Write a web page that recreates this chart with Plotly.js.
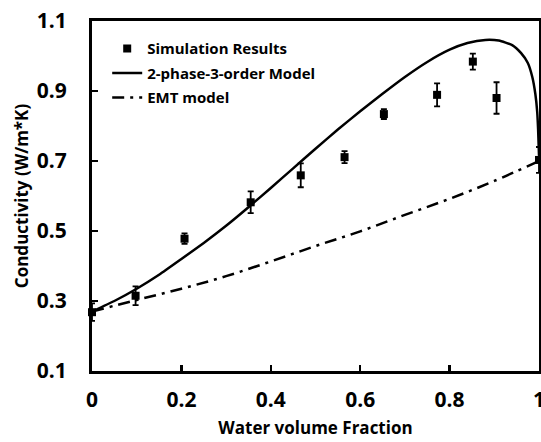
<!DOCTYPE html>
<html>
<head>
<meta charset="utf-8">
<script src="https://cdn.plot.ly/plotly-3.0.1.min.js"></script>
<style>html,body{margin:0;padding:0;background:#fff;}#chart{width:541px;height:442px;}</style>
</head>
<body>
<div id="chart"></div>
<script>
// Simulation results (points with error bars)
const simX = [0, 0.0975, 0.207, 0.355, 0.467, 0.565, 0.653, 0.772, 0.852, 0.905, 1.0];
const simY = [0.268, 0.315, 0.478, 0.582, 0.659, 0.711, 0.834, 0.889, 0.984, 0.880, 0.703];
const simErr = [0.025, 0.027, 0.015, 0.031, 0.034, 0.017, 0.014, 0.033, 0.023, 0.045, 0.037];

// 2-phase-3-order model curve
const modelX = [0, 0.05, 0.1, 0.15, 0.2, 0.25, 0.3, 0.35, 0.4, 0.45, 0.5, 0.55, 0.6, 0.65, 0.7, 0.75, 0.8, 0.84, 0.88, 0.91, 0.94, 0.96, 0.975, 0.985, 0.992, 0.996, 0.998, 1.0];
const modelY = [0.27, 0.30, 0.335, 0.375, 0.42, 0.466, 0.515, 0.568, 0.623, 0.679, 0.735, 0.79, 0.842, 0.892, 0.94, 0.983, 1.018, 1.037, 1.046, 1.044, 1.031, 1.008, 0.98, 0.94, 0.89, 0.84, 0.79, 0.715];

// EMT model curve
const emtX = [0, 0.1, 0.2, 0.3, 0.4, 0.5, 0.6, 0.7, 0.8, 0.9, 1.0];
const emtY = [0.27, 0.303, 0.335, 0.371, 0.413, 0.457, 0.499, 0.546, 0.592, 0.643, 0.70];

const xTicks = [0, 0.2, 0.4, 0.6, 0.8, 1];
const xTickText = ['0', '0.2', '0.4', '0.6', '0.8', '1'];
const yTicks = [0.1, 0.3, 0.5, 0.7, 0.9, 1.1];
const yTickText = ['0.1', '0.3', '0.5', '0.7', '0.9', '1.1'];

const FONT = '"Open Sans", "DejaVu Sans", sans-serif';

const traces = [
  {
    x: simX, y: simY, type: 'scatter', mode: 'markers', name: 'Simulation Results',
    legendgroup: 'a',
    marker: {symbol: 'square', size: 8, color: '#000'},
    error_y: {type: 'data', array: simErr, visible: true, color: '#000', thickness: 1.8, width: 3},
    cliponaxis: false
  },
  {
    x: modelX, y: modelY, type: 'scatter', mode: 'lines', name: '2-phase-3-order Model',
    legendgroup: 'b',
    line: {color: '#000', width: 2.5, shape: 'spline', smoothing: 0.5}
  },
  {
    x: emtX, y: emtY, type: 'scatter', mode: 'lines', name: 'EMT model',
    legendgroup: 'c',
    line: {color: '#000', width: 2.5, dash: '12px,6px,3px,6px', shape: 'spline'}
  }
];

const layout = {
  width: 541, height: 442,
  margin: {l: 92, r: 2, t: 21, b: 71},
  paper_bgcolor: '#fff', plot_bgcolor: '#fff',
  font: {family: FONT, color: '#000', weight: 'bold'},
  showlegend: true,
  legend: {
    x: 0.034, y: 0.968, xanchor: 'left', yanchor: 'top',
    bgcolor: 'rgba(0,0,0,0)', borderwidth: 0,
    font: {family: FONT, size: 15, color: '#000', weight: 'bold'},
    traceorder: 'grouped', tracegroupgap: 2
  },
  xaxis: {
    range: [0, 1], tickmode: 'array', tickvals: xTicks, ticktext: xTickText,
    showgrid: false, zeroline: false,
    showline: true, linecolor: '#000', linewidth: 3, mirror: true,
    ticks: 'inside', ticklen: 6, tickwidth: 2.5, tickcolor: '#000',
    tickfont: {family: FONT, size: 21, color: '#000', weight: 'bold'},
    ticklabelstandoff: 8, ticklabeloverflow: 'allow',
    title: {text: 'Water volume Fraction', font: {family: FONT, size: 17, color: '#000', weight: 'bold'}, standoff: 10}
  },
  yaxis: {
    range: [0.1, 1.1], tickmode: 'array', tickvals: yTicks, ticktext: yTickText,
    showgrid: false, zeroline: false,
    showline: true, linecolor: '#000', linewidth: 3, mirror: true,
    ticks: 'inside', ticklen: 6, tickwidth: 2.5, tickcolor: '#000',
    tickfont: {family: FONT, size: 21, color: '#000', weight: 'bold'},
    ticklabelstandoff: 18, ticklabeloverflow: 'allow',
    title: {text: 'Conductivity (W/m*K)', font: {family: FONT, size: 17, color: '#000', weight: 'bold'}, standoff: 4}
  }
};

Plotly.newPlot('chart', traces, layout, {displayModeBar: false, staticPlot: true});
</script>
</body>
</html>
